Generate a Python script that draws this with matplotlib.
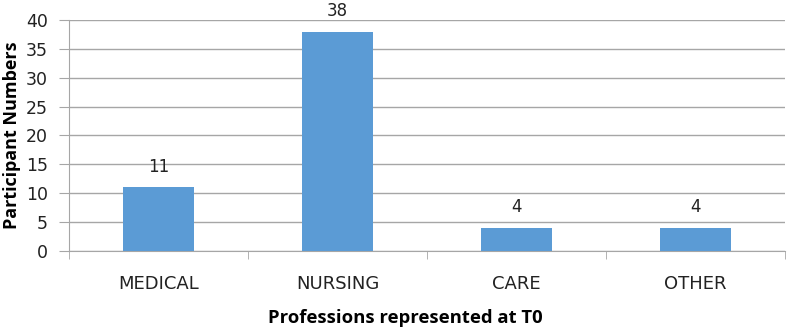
import matplotlib
matplotlib.use("Agg")
import matplotlib.pyplot as plt

categories = ["MEDICAL", "NURSING", "CARE", "OTHER"]
values = [11, 38, 4, 4]
yticks = [0, 5, 10, 15, 20, 25, 30, 35, 40]

plt.rcParams['font.family'] = ['DejaVu Sans']

fig = plt.figure(figsize=(7.87, 3.31), dpi=100)
ax = fig.add_axes([0.0877, 0.2417, 0.9098, 0.6979])

x = list(range(len(categories)))
ax.bar(x, values, width=0.4, color="#5B9BD5", zorder=3)
for xi, v in zip(x, values):
    ax.text(xi, v + 2.0, str(v), ha="center", va="bottom", fontsize=12, color="#222222")

ax.set_xlim(-0.5, len(categories) - 0.5)
ax.set_ylim(0, 40)
ax.set_yticks(yticks)
ax.set_yticklabels([str(t) for t in yticks], fontsize=12.5, color="#222222")
ax.yaxis.grid(True, color="#A6A6A6", linewidth=1.0, zorder=0)
ax.tick_params(axis="y", length=7, color="#A6A6A6", pad=8)

ax.set_xticks(x)
ax.set_xticklabels(categories, fontsize=13, color="#222222")
ax.tick_params(axis="x", length=0, pad=17)
ax.set_xticks([i - 0.5 for i in range(len(categories) + 1)], minor=True)
ax.tick_params(axis="x", which="minor", length=6, color="#A6A6A6")

for s in ["top", "right"]:
    ax.spines[s].set_visible(False)
for s in ["left", "bottom"]:
    ax.spines[s].set_color("#A6A6A6")

ax.set_ylabel("Participant Numbers", fontsize=13, fontweight="bold",
              family=["Open Sans", "DejaVu Sans"], labelpad=4)
ax.set_xlabel("Professions represented at T0", fontsize=13.3, fontweight="bold",
              family=["Open Sans", "DejaVu Sans"], va="center")
ax.xaxis.set_label_coords(0.47, -0.29)

fig.savefig("out.png", dpi=100)
